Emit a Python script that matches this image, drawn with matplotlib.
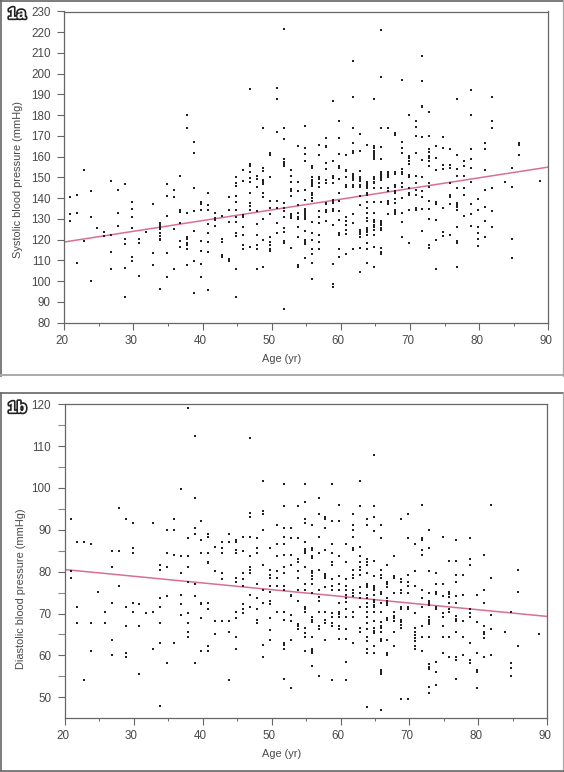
import matplotlib
matplotlib.use("Agg")
import numpy as np
import matplotlib.pyplot as plt
import matplotlib.patheffects as pe
from matplotlib.lines import Line2D
from matplotlib.ticker import MultipleLocator
from matplotlib.transforms import ScaledTranslation

plt.rcParams['font.family'] = ['Liberation Sans', 'DejaVu Sans']

W, H = 564, 772
INK = "#4a4a4a"
FRAME = "#666666"
LINE_COL = "#d9708f"

# ── DATA ──────────────────────────────────────────────────────────────────────
ages = [21, 22, 23, 24, 25, 26, 27, 28, 29, 30, 31, 32, 33, 34, 35, 36, 37, 38, 39, 40,
        41, 42, 43, 44, 45, 46, 47, 48, 49, 50, 51, 52, 53, 54, 55, 56, 57, 58, 59, 60,
        61, 62, 63, 64, 65, 66, 67, 68, 69, 70, 71, 72, 73, 74, 75, 76, 77, 78, 79, 80,
        81, 82, 84, 85, 86, 89]

systolic = [
    [140.4, 132.5, 129],
    [141.7, 133, 108.9],
    [153.5, 119.4],
    [143.3, 130.8, 100.2],
    [125.8],
    [123.5, 121.8],
    [148.3, 122.1, 114.2, 106],
    [143.9, 133, 126.7],
    [146.8, 120.5, 117.8, 106.5, 92.2],
    [138, 134.8, 130.8, 125.5, 111.8, 109.6],
    [120.5, 118.2, 102.7],
    [123.9],
    [137, 113.7, 107.8],
    [128.2, 127.2, 126.3, 125.3, 123, 122, 120.5, 119.7, 96.4],
    [146.8, 141.2, 131.4, 113.7, 102.2],
    [143.9, 140.4, 125, 106],
    [150.8, 134.3, 133.2, 127.9, 119.4, 116.6],
    [180, 173.8, 133, 121.4, 120.2, 118.6, 117.4, 115.5, 107.8],
    [167.3, 161.6, 145, 133.7, 124.3, 109.6, 94.1],
    [138.3, 137.2, 134.3, 119.4, 114.7, 108.3, 102.2],
    [142.3, 136.5, 134.3, 127.4, 123.4, 118.9, 114.1, 95.7],
    [133, 130.3, 129.5, 126.7],
    [131.4, 120.2, 118.9, 112.4, 111.6],
    [140.4, 134.3, 128.5, 110.8, 109.6],
    [150.3, 147.4, 146.1, 141.2, 138.2, 134.3, 130.8, 128.5, 123, 121.9, 105.7, 92.2],
    [153.5, 148.2, 131.7, 130.8, 126.3, 122.2, 117.4, 115.3],
    [192.6, 156.4, 155.6, 152.6, 149.7, 147.9, 142.3, 137.5, 136.4, 134.3, 116.3],
    [150.6, 149.5, 145.5, 133.7, 127.4, 122.1, 117.4, 115.3, 106],
    [173.8, 154.8, 153.2, 149, 147.6, 146.8, 142.3, 140.4, 130.1, 119.8, 106.7],
    [161.6, 160.6, 150.3, 138.8, 135.3, 132.5, 121.1, 118.9, 117.4, 115.7, 114.5],
    [193, 187.9, 171.8, 138.8, 135.3, 127.9, 123.4],
    [221.8, 173.8, 168.6, 158.8, 157.5, 156.6, 155.6, 137.5, 135.1, 134, 130.8, 125.8, 123.9, 119.4, 118.2, 86.7],
    [153.5, 150.8, 147.8, 144.6, 143.3, 141.2, 132.5, 131.4, 130.3, 116.1],
    [165.1, 147.8, 143.6, 136.5, 132.7, 130.8, 129.8, 126.3, 121.1, 107.8, 106.7],
    [174.7, 164.3, 161.1, 157.7, 144, 139.1, 134.9, 134, 133, 132, 131, 130.1, 124.3, 119.8, 118.9, 117.7, 111],
    [155.6, 154.8, 150.3, 149, 147.9, 147, 146, 142.3, 141.4, 140.1, 138.8, 128.5, 123.1, 119.8, 115.5, 113.1, 108.9, 101],
    [165.7, 160.6, 150.3, 149.4, 147.1, 145.5, 133.7, 130.8, 127.9, 122.2, 118.9, 115.3],
    [169.1, 165.3, 164.5, 157, 154.2, 148.6, 147.1, 137.8, 137.2, 134.3, 133.5, 129.2],
    [186.9, 157.7, 150.6, 149.7, 147.4, 139.1, 138.3, 137.5, 134.6, 133.7, 127.1, 108.3, 98.6, 97.3],
    [177.1, 169.1, 161.4, 155.6, 154.8, 149.2, 142.3, 138.8, 133.7, 129.5, 123.4, 122.2, 115.5, 111.8],
    [160.8, 153.5, 152.9, 150.3, 146.3, 145.5, 131.1, 128.8, 127.2, 124.7, 122.7, 113.1],
    [206.2, 188.6, 173.8, 166.4, 162.9, 161.6, 151.9, 150.8, 149.7, 148.6, 146.3, 145.5, 132.4, 127.9, 115.3],
    [170.9, 162.9, 153.2, 150.3, 149.4, 148.1, 146.6, 145.5, 141, 136.5, 124.7, 123.7, 122.7, 121.4, 115.8, 104.4],
    [165.7, 147.9, 146.8, 145.8, 144.7, 142.3, 141.4, 138.1, 135.1, 133, 130.3, 129.2, 125.8, 124.7, 123.5, 122.2, 118.2, 115.3, 108.9],
    [187.6, 165.1, 164.1, 162.9, 161.9, 161, 160, 159, 150.3, 149.5, 147.9, 147.1, 144.7, 138.3, 133, 129.5, 128.4, 127.1, 126, 124.7, 122.1, 116.3, 106.7],
    [221.3, 198.5, 173.8, 164.6, 158.8, 152.8, 151.9, 150.8, 149.7, 148.6, 144.7, 138.2, 129.2, 128.2, 126.9, 125.8, 124.7, 116.1, 114.2, 113.1],
    [173.8, 152.7, 151.9, 151.1, 150.3, 145, 143.6, 138.8, 137.8, 137.2, 132.4],
    [171.5, 170.7, 152.6, 151.6, 146.3, 145.2, 143.6, 142.3, 139.4, 137.8, 134.3, 133.3, 132.2],
    [197.2, 166.9, 164, 162, 153.9, 152.7, 151.6, 147.1, 145.5, 139.9, 133, 128.5, 121.1],
    [180, 160.3, 159.2, 158, 156.7, 151.1, 150.3, 144.7, 142.6, 141.7, 134.3, 118.2],
    [177.1, 174.4, 170.2, 161.6, 150.8, 147.5, 144, 141.7, 135.3, 134.3],
    [208.6, 196.4, 184.4, 184, 169.6, 158.4, 150.3, 143.4, 140.4, 134.9, 124.3],
    [181.6, 170.2, 163.9, 162.4, 160.3, 159.2, 158, 155.6, 147.1, 145.5, 138.5, 134.9, 130.1, 117.3, 116],
    [165.3, 159.5, 153.5, 138.3, 137.2, 129.5, 119.8, 105.7],
    [169.6, 164, 155.9, 153.9, 135.3, 123.5, 121.8],
    [163.7, 155.9, 154.6, 147.4, 141.4, 140.4, 137.2, 122.1],
    [187.6, 160.8, 154.3, 150.8, 145, 137.8, 136.7, 135.6, 134.3, 126.3, 119.2, 118.2, 106.7],
    [157.7, 155.6, 150.8, 144.7, 141.7, 131.4],
    [192.1, 180, 163.5, 158.8, 154.8, 147.9, 137.2, 132.4, 126.7],
    [139.4, 134.3, 126.3, 123.1, 120.5, 117],
    [166.4, 163.5, 153.5, 144, 135.9, 128.8, 121.4],
    [188.6, 177.1, 173.8, 145, 133.7, 126.3],
    [147.9],
    [154.8, 145.5, 120.5, 111.1],
    [166.4, 165.7, 160.6],
    [148.4],
]

diastolic = [
    [92.5, 80.2, 78.4],
    [87, 71.6, 67.7],
    [87, 54],
    [86.5, 67.7, 61],
    [75.1],
    [70.4, 67.7],
    [85, 81, 72.4, 63.6, 60.2],
    [95.1, 85, 76.5],
    [92.5, 71.6, 66.9, 60.5, 59.6],
    [91.6, 85.6, 84.5, 72.4, 70.4],
    [72.2, 66.9, 55.5],
    [70.1],
    [91.6, 70.4, 61.5],
    [81.6, 80.5, 73.6, 71.6, 67.7, 62.9, 48],
    [89.9, 84.5, 81, 74.1, 58.1],
    [92.5, 89.9, 83.9, 62.9],
    [99.7, 83.7, 79.6, 74.4, 72.2, 69.6],
    [119.1, 88, 83.7, 81, 77.6, 70.1, 67.7, 65.7, 64.5],
    [112.5, 97.7, 90.5, 89.1, 77, 74.1, 58.1],
    [92, 87.6, 84.5, 72.4, 72.2, 69, 61],
    [88.9, 88.4, 84.5, 82.4, 82.1, 72.4, 71, 62.2, 61],
    [85.9, 80.2, 68.2, 65],
    [87, 85.6, 84.5, 79.6, 78.2, 68.2],
    [89.1, 87, 68.2, 65.5, 54],
    [87.6, 87, 85.1, 84.5, 78.4, 77.6, 70.4, 69, 64.4, 61.5],
    [88.4, 85, 79.6, 78.2, 76.5, 72.2, 71, 70.1],
    [112, 94, 93.1, 88.4, 83.7, 81, 80.4, 79.6, 74.4, 71.6],
    [88, 85.6, 84.5, 77, 73.6, 71, 68.4, 67.7],
    [101.7, 94.5, 93.7, 89.9, 81.6, 75.6, 72.4, 62.4, 59.5],
    [85.6, 80.5, 79.2, 78.4, 76.5, 75.1, 73.1, 72.2, 69, 66, 63.6],
    [91.1, 86.5, 83.7, 80.2, 78.4, 76.5, 70.4],
    [101, 95.6, 90.5, 88.4, 86.5, 83.9, 81, 79.6, 76.5, 75.6, 70.4, 68.4, 62.9, 62.4, 61.5, 54.4],
    [90.5, 88, 83.9, 81.6, 74.4, 74.1, 69.6, 68.2, 63.6, 52.1],
    [95.6, 88, 83, 82.4, 80.2, 78.4, 75.6, 73.1, 67.6, 67, 66.2],
    [101, 96.6, 92.5, 91.6, 87, 85.3, 85, 84.4, 81, 77, 75.6, 71.6, 71, 70.4, 66.5, 65.3, 64.5, 61],
    [91.1, 85.6, 85.2, 83.7, 83.2, 80.2, 79.6, 79, 78.2, 77, 75, 69.1, 68.4, 68, 64.5, 61.6, 61, 60.5, 57.5],
    [97.7, 93.7, 88.4, 84.5, 80.5, 75.6, 74, 73.1, 70.4, 67, 66.2, 55],
    [93.1, 92.5, 90.5, 85.1, 79.4, 79, 78.4, 76.3, 70.4, 68.4, 67.7, 63.6],
    [101, 92, 86.5, 84.5, 82.4, 81.6, 78.2, 76.6, 75.6, 70.2, 69.1, 67.7, 67, 54.1],
    [95.9, 92, 83.7, 79, 77, 75.6, 72.4, 70.4, 69.9, 69.1, 67, 66.2, 64],
    [86.5, 82.2, 78.2, 76.6, 75.6, 74.4, 73.6, 72.8, 71, 69.1, 66.2, 64, 58.4, 54.1],
    [93.7, 91.1, 89.9, 88.4, 85.6, 85.1, 80.5, 79.2, 78.4, 75.5, 74.8, 74.3, 70.4, 69.1, 63],
    [101.7, 95.6, 85.9, 83.7, 82.4, 81, 80.5, 79.2, 76.3, 75, 73.6, 71.6, 66.5, 65.5],
    [92.5, 91.1, 83, 82.4, 81.6, 79.6, 77, 76.6, 76.3, 74.4, 73.6, 72.4, 71.5, 70.4, 69.1, 67.7, 66.2, 64.5, 63.5, 61.6, 60.5, 47.6],
    [108, 95.6, 93, 89.7, 82.5, 79, 76.6, 76, 75.5, 74.4, 73.2, 72.7, 72, 71.5, 70.4, 68.3, 66.5, 65.9, 65.4, 62.2, 60.5],
    [91.1, 88, 80.5, 79.2, 78.4, 75.2, 74.7, 72.4, 70.4, 68, 67, 66.5, 65.7, 64, 63.5, 56.5, 56, 55.5, 47],
    [81.6, 77.6, 77, 76.4, 73.6, 73.1, 72.4, 72, 69, 68.4, 63.7, 60.5, 60.1],
    [83.7, 79, 78.4, 75, 70.4, 69.4, 68.9, 68.3, 65.5, 62.2],
    [92.5, 78.2, 77.6, 75.5, 75, 71.6, 71, 68.4, 67.9, 67.3, 66.5, 49.6],
    [93.7, 88, 79.2, 77.6, 76.6, 75, 71.6, 71, 49.6],
    [86.5, 80.2, 76.6, 70.2, 66.5, 65.7, 64.9, 64.1, 63.5, 62.2, 61.6],
    [95.9, 88, 87.6, 85.1, 83.9, 75.6, 73.6, 71.5, 67, 64.5, 61],
    [89.9, 85.6, 80.2, 75, 73.1, 72.4, 72, 69.1, 68.4, 67.9, 67.5, 64.5, 57.9, 57.3, 56.7, 52.4, 50.9],
    [79.6, 77, 75.2, 74.7, 71.5, 71, 58.4, 56.1, 52.9],
    [88.4, 77, 74.2, 70.2, 69.1, 67, 64.5, 60.5],
    [82.5, 75.2, 74.7, 74, 72.4, 71, 70.4, 64.5, 59.5],
    [87.6, 82.5, 79.2, 77.6, 74.2, 72.4, 69.4, 68.8, 68.3, 65.5, 59.5, 58.9, 54.4],
    [79.2, 74.4, 68.3, 64.5, 60.1],
    [88, 83.1, 81.6, 71, 70.2, 69.1, 63, 59, 58.1],
    [74.4, 68, 60.5, 56.5, 56.1, 52.1],
    [83.9, 75.6, 72.4, 67, 65.7, 65.1, 64.1, 59.5],
    [95.9, 78.4, 69.6, 66.2, 60.1],
    [65.5],
    [70.4, 58.1, 56.9, 55],
    [80.5, 75.1, 62.2],
    [65],
]

fit_x = [20, 90]
fit_sys = [118.9, 155]
fit_dia = [80.5, 69.3]


# ── HELPERS ───────────────────────────────────────────────────────────────────
def fx(x):
    return x / W


def fy(y):
    return 1 - y / H


def frame_line(fig, x0, y0, x1, y1, color=FRAME, lw=1.2):
    fig.add_artist(Line2D([fx(x0), fx(x1)], [fy(y0), fy(y1)], color=color, lw=lw))


def draw_panel(fig, box, rows, fit, ylim, ymajor, yminor, ylabel, badge, ylab_x, ylab_y, age_y, badge_y):
    left, top, right, bottom = box
    ax = fig.add_axes([fx(left), fy(bottom), (right - left) / W, (bottom - top) / H])

    x = np.repeat(ages, [len(r) for r in rows]) - 0.2
    y = np.concatenate(rows)
    ax.plot(fit_x, fit, color=LINE_COL, lw=1.1, zorder=2)
    ax.scatter(x, y, s=1.5, marker='s', color='#222222', linewidths=0, zorder=3, clip_on=False)

    ax.set_xlim(20, 90)
    ax.set_ylim(*ylim)
    ax.xaxis.set_major_locator(MultipleLocator(10))
    ax.xaxis.set_minor_locator(MultipleLocator(5))
    ax.yaxis.set_major_locator(MultipleLocator(ymajor))
    if yminor:
        ax.yaxis.set_minor_locator(MultipleLocator(yminor))

    for s in ax.spines.values():
        s.set_color(FRAME)
        s.set_linewidth(0.9)
    ax.tick_params(axis='both', which='major', length=5, width=0.8, color=FRAME,
                   labelcolor=INK, labelsize=8.4, pad=5)
    ax.tick_params(axis='x', which='major', pad=3.5)
    ax.tick_params(axis='x', which='minor', length=2.4, width=0.7, color=FRAME)
    ax.tick_params(axis='y', which='minor', length=5, width=0.8, color="#888888")

    # tick numbers sit a little left of their ticks in the original
    shift = ScaledTranslation(-2.5 / 100, 0, fig.dpi_scale_trans)
    for lab in ax.get_xticklabels():
        lab.set_transform(lab.get_transform() + shift)

    fig.text(fx(ylab_x), fy(ylab_y), ylabel, rotation=90, ha='center', va='center',
             fontsize=7.9, color=INK)
    fig.text(fx(282), fy(age_y), "Age (yr)", ha='center', va='center', fontsize=7.9, color=INK)
    fig.text(fx(8), fy(badge_y), badge, ha='left', va='center', fontsize=11.5, fontweight='bold',
             color='white', path_effects=[pe.withStroke(linewidth=2.4, foreground='#222222')])
    return ax


# ── PLOT ──────────────────────────────────────────────────────────────────────
fig = plt.figure(figsize=(W / 100, H / 100), dpi=100, facecolor='white')

draw_panel(fig, (64.3, 11.5, 548.3, 322.7), systolic, fit_sys, (80, 230), 10, None,
           "Systolic blood pressure (mmHg)", "1a", 18, 180, 359, 14)
draw_panel(fig, (65, 404.3, 547.3, 717.7), diastolic, fit_dia, (45.1, 120), 10, 5,
           "Diastolic blood pressure (mmHg)", "1b", 21, 589, 754, 408)

# outer boxes round the two panels
frame_line(fig, 1, 0.5, 563, 0.5)
frame_line(fig, 1, 0, 1, 376)
frame_line(fig, 563, 0, 563, 376, color="#aaaaaa", lw=0.9)
frame_line(fig, 1, 375.5, 563, 375.5, color="#aaaaaa", lw=1.4)
frame_line(fig, 1, 393, 563, 393)
frame_line(fig, 1, 393, 1, 771)
frame_line(fig, 563, 393, 563, 771, color="#aaaaaa", lw=0.9)
frame_line(fig, 1, 770.8, 563, 770.8)

fig.savefig("out.png", dpi=100)
plt.close(fig)
